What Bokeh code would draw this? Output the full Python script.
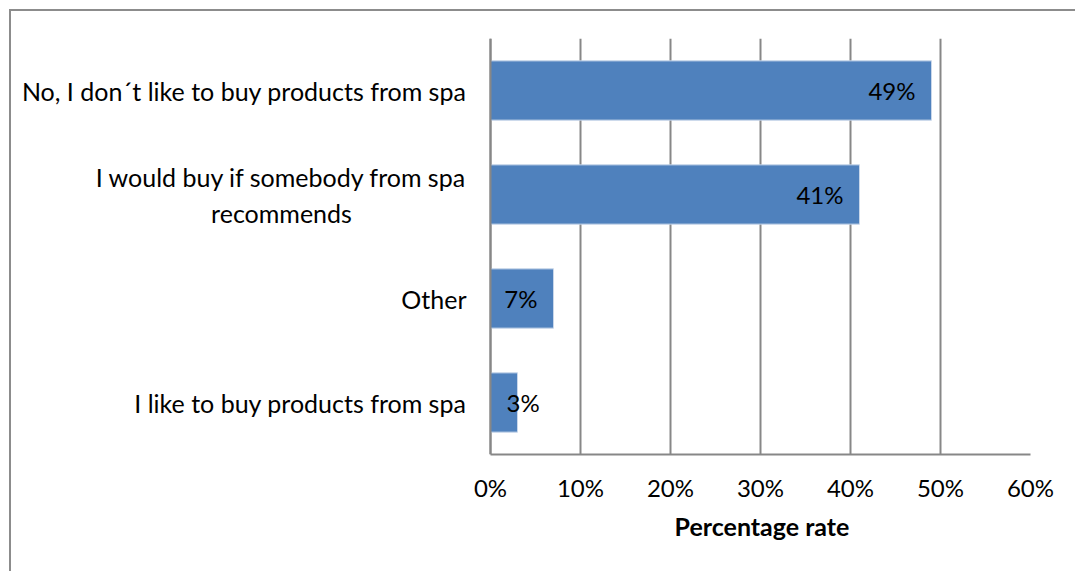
from bokeh.plotting import figure
from bokeh.models import (ColumnDataSource, FactorRange, Range1d, NumeralTickFormatter,
                          FixedTicker, Span, Title)
from bokeh.core.properties import value
from bokeh.embed import file_html
from bokeh.resources import INLINE

# Survey answers (top to bottom as shown) and their shares
categories = [
    "No, I don´t like to buy products from spa",
    "I would buy if somebody from spa\nrecommends",
    "Other",
    "I like to buy products from spa",
]
shares = [0.49, 0.41, 0.07, 0.03]
x_ticks = [0.0, 0.1, 0.2, 0.3, 0.4, 0.5, 0.6]
x_label = "Percentage rate"

FONT = "Lato"
LABEL_SIZE = "25px"
TICK_SIZE = "24px"
GRID = "#878787"
BAR = "#4F81BD"

# categorical axis runs bottom-up, so reverse the order
y_factors = list(reversed(categories))

labels = [f"{round(v * 100)}%" for v in shares]
short = [v < 0.05 for v in shares]
src = ColumnDataSource(dict(cat=categories, share=shares))
src_in = ColumnDataSource(dict(
    cat=[c for c, s in zip(categories, short) if not s],
    share=[v for v, s in zip(shares, short) if not s],
    label=[l for l, s in zip(labels, short) if not s],
))
src_short = ColumnDataSource(dict(
    cat=[c for c, s in zip(categories, short) if s],
    zero=[0.0 for s in short if s],
    label=[l for l, s in zip(labels, short) if s],
))
single = [c for c in categories if "\n" not in c]
multi = [c for c in categories if "\n" in c]
src_cat1 = ColumnDataSource(dict(cat=single, zero=[0.0] * len(single)))
src_cat2 = ColumnDataSource(dict(cat=multi, zero=[0.0] * len(multi)))

# 540 px cover 0..60 %; the frame reaches 474 px further left so the
# category names can be drawn inside it
PX = 0.6 / 540
p = figure(
    width=1066, height=562,
    y_range=FactorRange(factors=y_factors),
    x_range=Range1d(-474 * PX, 0.6),
    output_backend="svg", toolbar_location=None,
    min_border_left=5, min_border_right=47,
    min_border_top=27, min_border_bottom=119,
)
p.styles = {
    "margin-left": "9px", "margin-top": "9px",
    "border-left": "2px solid #8c8c8c", "border-top": "2px solid #8c8c8c",
}
p.outline_line_color = None
p.background_fill_color = "white"
p.border_fill_color = "white"

p.hbar(y="cat", right="share", left=0, height=0.57, source=src,
       fill_color=BAR, line_color="#c9d7ea", line_width=1)

# value labels at the inner end of each bar; short bars get them from the start
p.text(x="share", y="cat", text="label", source=src_in,
       text_align="right", text_baseline="middle", x_offset=-16,
       text_font=value(FONT), text_font_size=TICK_SIZE, text_color="black")
p.text(x="zero", y="cat", text="label", source=src_short,
       text_align="left", text_baseline="middle", x_offset=16,
       text_font=value(FONT), text_font_size=TICK_SIZE, text_color="black")

# category names: right-aligned, the two-line one centred as a block
p.text(x="zero", y="cat", text="cat", source=src_cat1,
       text_align="right", text_baseline="middle", x_offset=-24,
       text_font=value(FONT), text_font_size=LABEL_SIZE, text_color="black")
p.text(x="zero", y="cat", text="cat", source=src_cat2,
       text_align="center", text_baseline="middle", x_offset=-209,
       text_font=value(FONT), text_font_size=LABEL_SIZE, text_color="black",
       text_line_height=1.2)

# value axis, limited to 0..60 %
p.xaxis.ticker = FixedTicker(ticks=x_ticks)
p.xaxis.bounds = (0, 0.6)
p.xaxis.formatter = NumeralTickFormatter(format="0%")
p.xaxis.major_label_text_font = FONT
p.xaxis.major_label_text_font_size = TICK_SIZE
p.xaxis.major_label_text_color = "black"
p.xaxis.major_label_standoff = 12
p.xaxis.major_tick_line_color = None
p.xaxis.minor_tick_line_color = None
p.xaxis.axis_line_color = GRID
p.xaxis.axis_line_width = 2

p.add_layout(Title(text=x_label, align="left", offset=658, standoff=8,
                   text_font=FONT, text_font_size="25px",
                   text_font_style="bold", text_color="black"), "below")

p.yaxis.visible = False
p.add_layout(Span(location=0, dimension="height", line_color=GRID, line_width=2))

p.xgrid.ticker = FixedTicker(ticks=x_ticks)
p.xgrid.grid_line_color = GRID
p.xgrid.grid_line_width = 2
p.ygrid.grid_line_color = None

open("out.html", "w").write(file_html(p, INLINE))
